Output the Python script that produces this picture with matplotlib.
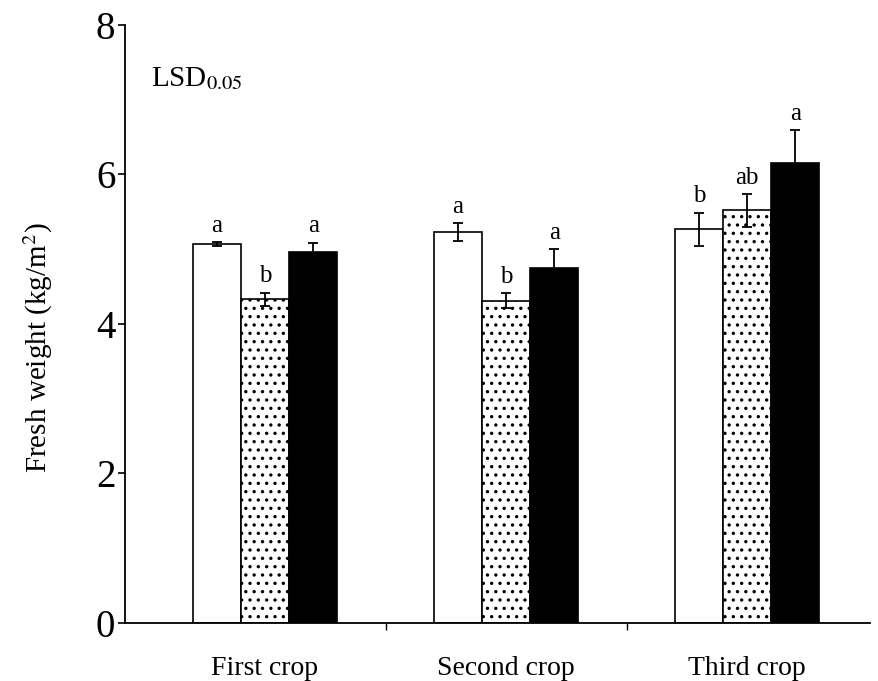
import numpy as np
import matplotlib
matplotlib.use('Agg')
import matplotlib.pyplot as plt

plt.rcParams['font.family'] = ['Liberation Serif', 'DejaVu Serif']
plt.rcParams['mathtext.fontset'] = 'stix'
plt.rcParams['hatch.linewidth'] = 1.2

crops = ['First crop', 'Second crop', 'Third crop']
white_vals = [5.07, 5.23, 5.27]
dotted_vals = [4.33, 4.31, 5.52]
black_vals = [4.96, 4.75, 6.15]
white_err = [0.03, 0.12, 0.22]
dotted_err = [0.09, 0.10, 0.22]
black_err = [0.13, 0.25, 0.44]
white_lett = ['a', 'a', 'b']
dotted_lett = ['b', 'b', 'ab']
black_lett = ['a', 'a', 'a']

fig = plt.figure(figsize=(8.79, 6.81), dpi=100)
ax = fig.add_axes([0.1422, 0.0852, 0.8476, 0.8781])

x = np.arange(len(crops))
w = 0.2
series = [
    (white_vals, white_err, white_lett, dict(color='white', edgecolor='black')),
    (dotted_vals, dotted_err, dotted_lett, dict(color='white', edgecolor='black', hatch='..')),
    (black_vals, black_err, black_lett, dict(color='black', edgecolor='black')),
]
for i, (vals, errs, letts, style) in enumerate(series):
    xs = x + (i - 1) * w
    ax.bar(xs, vals, w, linewidth=1.2, zorder=2, **style)
    ax.errorbar(xs, vals, yerr=errs, fmt='none', ecolor='black', elinewidth=1.3,
                capsize=3.5, capthick=1.3, zorder=3)
    for xi, v, e, t in zip(xs, vals, errs, letts):
        ax.text(xi, v + e + 0.07, t, ha='center', va='bottom', fontsize=18)

# LSD label (no bar drawn in the original)
ax.text(-0.475, 7.28, 'LSD$_{0.05}$', fontsize=21, ha='left', va='center')

ax.set_xlim(-0.581, 2.51)
ax.set_ylim(0, 8)
ax.set_yticks([0, 2, 4, 6, 8])
ax.tick_params(axis='y', labelsize=28, length=5, width=1.2, direction='out', pad=2)
ax.set_xticks(x)
ax.set_xticklabels(crops, fontsize=20)
ax.tick_params(axis='x', length=0, pad=24)
ax.set_xticks([0.5, 1.5], minor=True)
ax.tick_params(axis='x', which='minor', length=5, width=1.0, direction='out')
ax.set_ylabel('Fresh weight (kg/m$^2$)', fontsize=21)
ax.yaxis.set_label_coords(-0.094, 0.46)

for s in ['top', 'right']:
    ax.spines[s].set_visible(False)
for s in ['left', 'bottom']:
    ax.spines[s].set_linewidth(1.3)

fig.savefig('out.png', dpi=100)
